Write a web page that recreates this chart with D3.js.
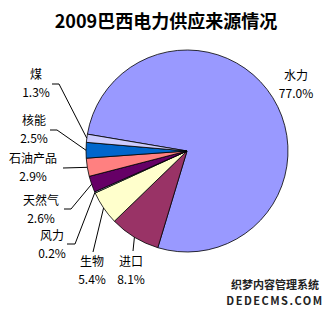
<!DOCTYPE html>
<html>
<head>
<meta charset="utf-8">
<script src="https://cdn.jsdelivr.net/npm/d3@7"></script>
<style>
  body { margin: 0; background: #fff; }
  text { font-family: "Noto Sans CJK SC", sans-serif; }
</style>
</head>
<body>
<script>
// Data
const categories = ["水力", "进口", "生物", "风力", "天然气", "石油产品", "核能", "煤"];
const values = [77.0, 8.1, 5.4, 0.2, 2.6, 2.9, 2.5, 1.3];
const colors = ["#9999ff", "#993366", "#ffffcc", "#ccffff", "#660066", "#ff8080", "#0066cc", "#ccccff"];
const title = "2009巴西电力供应来源情况";

// Layout
const width = 336, height = 315;
const cx = 187, cy = 151, radius = 101;
const startAngle = -80.4 * Math.PI / 180;

// label centre (x, y of first line) and leader anchor (null = no leader)
const labelPos = [
  { x: 296, y: 76, anchor: null },
  { x: 131, y: 262, anchor: [[133, 251]] },
  { x: 92, y: 262, anchor: [[93, 252]] },
  { x: 52, y: 236, anchor: [[67, 244], [75, 244]] },
  { x: 41, y: 201, anchor: [[64, 209], [71, 209]] },
  { x: 33, y: 159, anchor: [[63, 168]] },
  { x: 34, y: 121, anchor: [[50, 130], [57, 130]] },
  { x: 36, y: 75, anchor: [[52, 84], [59, 84]] }
];

const svg = d3.select("body")
  .append("svg")
  .attr("width", width)
  .attr("height", height);

// Title
svg.append("text")
  .attr("x", 166)
  .attr("y", 28)
  .attr("text-anchor", "middle")
  .attr("font-size", 18)
  .attr("font-weight", "bold")
  .attr("fill", "#000")
  .text(title);

const pie = d3.pie()
  .sort(null)
  .value(d => d)
  .startAngle(startAngle)
  .endAngle(startAngle + 2 * Math.PI);

const arcs = pie(values);

const arc = d3.arc().innerRadius(0).outerRadius(radius);
const edgeArc = d3.arc().innerRadius(radius).outerRadius(radius);

const g = svg.append("g").attr("transform", `translate(${cx},${cy})`);

g.selectAll("path")
  .data(arcs)
  .enter()
  .append("path")
  .attr("d", arc)
  .attr("fill", (d, i) => colors[i])
  .attr("stroke", "#000")
  .attr("stroke-width", 0.8)
  .attr("stroke-linejoin", "round");

// Leader lines
arcs.forEach((d, i) => {
  const p = labelPos[i];
  if (!p.anchor) return;
  const edge = edgeArc.centroid(d);
  const pts = p.anchor.concat([[edge[0] + cx, edge[1] + cy]]);
  svg.append("path")
    .attr("d", d3.line()(pts))
    .attr("fill", "none")
    .attr("stroke", "#000")
    .attr("stroke-width", 1);
});

// Labels
const lbl = svg.selectAll("g.lbl")
  .data(arcs)
  .enter()
  .append("g")
  .attr("class", "lbl");

lbl.append("text")
  .attr("x", (d, i) => labelPos[i].x)
  .attr("y", (d, i) => labelPos[i].y + 4)
  .attr("text-anchor", "middle")
  .attr("font-size", 12)
  .attr("fill", "#000")
  .text((d, i) => categories[i]);

lbl.append("text")
  .attr("x", (d, i) => labelPos[i].x)
  .attr("y", (d, i) => labelPos[i].y + 22)
  .attr("text-anchor", "middle")
  .attr("font-size", 12)
  .attr("fill", "#000")
  .text(d => d.data.toFixed(1) + "%");

// Watermark
svg.append("text")
  .attr("x", 275)
  .attr("y", 289)
  .attr("text-anchor", "middle")
  .attr("font-size", 11)
  .attr("font-weight", "bold")
  .attr("fill", "#222")
  .attr("stroke", "#fff")
  .attr("stroke-width", 2)
  .attr("paint-order", "stroke")
  .text("织梦内容管理系统");

svg.append("text")
  .attr("x", 275)
  .attr("y", 305)
  .attr("text-anchor", "middle")
  .attr("font-size", 11)
  .attr("font-weight", "bold")
  .attr("letter-spacing", 1.5)
  .attr("fill", "#222")
  .attr("stroke", "#fff")
  .attr("stroke-width", 2)
  .attr("paint-order", "stroke")
  .text("DEDECMS.COM");
</script>
</body>
</html>
